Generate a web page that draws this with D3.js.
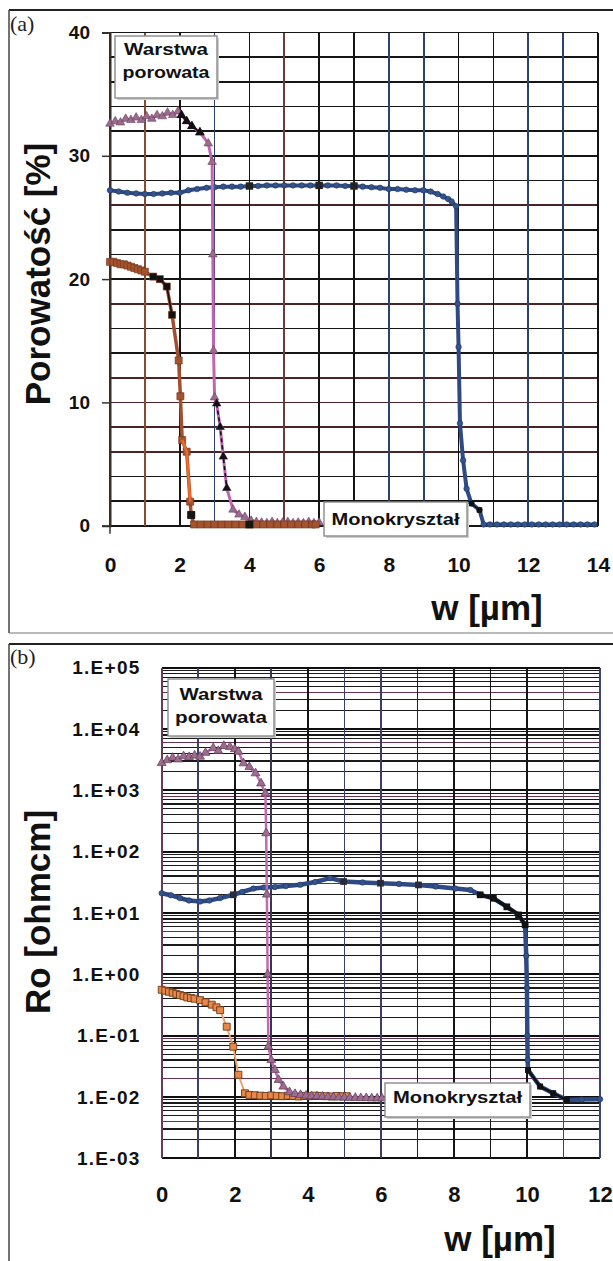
<!DOCTYPE html>
<html><head><meta charset="utf-8">
<script src="https://cdn.jsdelivr.net/npm/d3@7"></script>
<style>body{margin:0;background:#fff}svg{display:block}</style>
</head><body>
<svg id="fig" width="613" height="1261"></svg>
<script>
// ---------- (a) porosity profile ----------
const poroTickX = [0, 2, 4, 6, 8, 10, 12, 14];
const poroTickY = [0, 10, 20, 30, 40];

// triangles: porous layer sample
const poroTriX = [0,0.15,0.3,0.45,0.6,0.75,0.9,1.05,1.2,1.35,1.5,1.65,1.8,1.95,2.05,2.2,2.35,2.58,2.82,2.93,2.95,2.97,3.0,3.06,3.16,3.25,3.35,3.53,3.7,3.87,4.05,4.2,4.35,4.5,4.65,4.8,4.95,5.1,5.25,5.4,5.55,5.7,5.85,6.0];
const poroTriY = [32.6,32.8,32.7,33.0,32.9,33.1,32.9,33.2,33.0,33.3,33.2,33.5,33.3,33.6,33.3,32.8,32.4,31.9,31.0,29.5,22.0,14.2,10.4,9.9,8.0,5.6,3.05,1.3,0.9,0.7,0.4,0.3,0.25,0.2,0.3,0.2,0.25,0.3,0.2,0.25,0.2,0.3,0.2,0.25];
const poroTriDarkAX = [2.05, 2.2, 2.35, 2.58];
const poroTriDarkAY = [33.3, 32.8, 32.4, 31.9];
const poroTriDarkBX = [3.06, 3.16, 3.25, 3.35];
const poroTriDarkBY = [9.9, 8.0, 5.6, 3.05];

// squares
const poroSqX = [0,0.1,0.2,0.3,0.4,0.5,0.6,0.7,0.8,0.9,1.0,1.24,1.43,1.63,1.78,1.97,2.02,2.07,2.2,2.3,2.33,2.41,2.6,2.8,3.0,3.2,3.4,3.6,3.8,4.0,4.2,4.4,4.6,4.8,5.0,5.2,5.4,5.6,5.8,5.9];
const poroSqY = [21.4,21.4,21.3,21.2,21.2,21.1,21.0,20.9,20.8,20.7,20.6,20.2,20.0,19.4,17.1,13.4,10.5,6.95,6.0,1.95,0.87,0.1,0.1,0.1,0.1,0.1,0.1,0.1,0.1,0.1,0.1,0.1,0.1,0.1,0.1,0.1,0.1,0.1,0.1,0.1];
const poroSqDarkX = [1.24, 1.43, 1.63, 1.78];
const poroSqDarkY = [20.2, 20.0, 19.4, 17.1];
const poroSqOrangeX = [2.07, 2.2, 2.3];
const poroSqOrangeY = [6.95, 6.0, 1.95];
const poroSqMarkX = [2.33, 4.0];
const poroSqMarkY = [0.87, 0.1];

// circles
const poroCircX = [0,0.25,0.5,0.75,1.0,1.25,1.5,1.75,2.0,2.25,2.5,2.77,3.0,3.25,3.5,3.75,4.0,4.25,4.5,4.75,5.0,5.25,5.5,5.75,6.0,6.25,6.5,6.75,7.0,7.25,7.5,7.75,8.0,8.25,8.5,8.75,8.99,9.2,9.4,9.56,9.7,9.8,9.93,9.97,10.0,10.04,10.13,10.23,10.37,10.6,10.72,10.9,11.1,11.3,11.5,11.7,11.9,12.1,12.3,12.5,12.7,12.9,13.1,13.3,13.5,13.7,13.9];
const poroCircY = [27.2,27.1,27.0,26.95,26.9,26.9,26.95,27.0,27.0,27.2,27.3,27.4,27.45,27.5,27.5,27.5,27.55,27.55,27.6,27.6,27.6,27.6,27.6,27.6,27.6,27.6,27.6,27.55,27.55,27.5,27.45,27.4,27.3,27.3,27.25,27.2,27.2,27.1,26.9,26.7,26.5,26.3,25.9,18.0,14.5,8.3,5.3,3.0,1.8,1.27,0.1,0.1,0.1,0.1,0.1,0.1,0.1,0.1,0.1,0.1,0.1,0.1,0.1,0.1,0.1,0.1,0.1];
const poroCircDarkX = [10.37, 10.6];
const poroCircDarkY = [1.8, 1.27];
const poroCircMarkX = [4.0, 6.0, 7.0];
const poroCircMarkY = [27.55, 27.6, 27.55];

// ---------- (b) resistivity profile ----------
const roTickX = [0, 2, 4, 6, 8, 10, 12];
const roTickY = [1e5, 1e4, 1e3, 1e2, 1e1, 1e0, 1e-1, 1e-2, 1e-3];
const roTickLabels = ["1.E+05", "1.E+04", "1.E+03", "1.E+02", "1.E+01", "1.E+00", "1.E-01", "1.E-02", "1.E-03"];

const roTriX = [0,0.15,0.3,0.45,0.6,0.75,0.9,1.05,1.2,1.41,1.55,1.7,1.87,2.0,2.1,2.24,2.4,2.57,2.72,2.84,2.86,2.88,2.9,2.92,3.0,3.1,3.2,3.33,3.5,3.65,3.8,3.95,4.1,4.25,4.4,4.55,4.7,4.85,5.0,5.15,5.3,5.45,5.6,5.75,5.9,6.03];
const roTriY = [2800,3100,3400,3200,3600,3500,3700,3550,4100,4900,4400,5300,5100,4700,4270,2760,2400,1900,1300,890,200,20,1.0,0.066,0.04,0.0275,0.019,0.0148,0.012,0.0112,0.0108,0.0105,0.0103,0.0102,0.0101,0.0100,0.0099,0.0098,0.0098,0.0097,0.0097,0.0096,0.0096,0.0095,0.0095,0.0095];

const roSqX = [0,0.1,0.2,0.3,0.4,0.5,0.6,0.7,0.8,0.9,1.05,1.2,1.37,1.5,1.6,1.78,1.96,2.1,2.28,2.4,2.55,2.7,2.85,3.0,3.15,3.3,3.45,3.6,3.75,3.9,4.05,4.2,4.35,4.5,4.65,4.8,4.95,5.07];
const roSqY = [0.56,0.54,0.52,0.50,0.48,0.46,0.44,0.42,0.41,0.40,0.38,0.35,0.32,0.29,0.26,0.14,0.066,0.023,0.0115,0.0108,0.0107,0.0105,0.0104,0.0106,0.0104,0.0103,0.0105,0.0104,0.0102,0.0104,0.0103,0.0105,0.0104,0.0103,0.0102,0.0104,0.0103,0.0103];

const roCircX = [0,0.25,0.5,0.75,1.05,1.3,1.6,1.96,2.2,2.51,2.8,3.1,3.4,3.79,4.2,4.61,4.98,5.5,5.99,6.5,7.03,7.5,8.04,8.45,8.72,9.08,9.45,9.77,9.95,9.98,10.0,10.01,10.02,10.03,10.36,10.72,11.09,11.5,12.0];
const roCircY = [21,19.5,17.5,16,15.4,16,17.5,19.8,22,25,26,26.5,27.5,28.8,32,37,32.6,31.5,30.6,29.8,28.7,27,25,23.8,19.8,17.4,12.6,9.3,6.4,2.0,0.6,0.1,0.04,0.0275,0.0148,0.0115,0.0089,0.0091,0.0092];
const roCircDarkAX = [8.72, 9.08, 9.45, 9.77, 9.95];
const roCircDarkAY = [19.8, 17.4, 12.6, 9.3, 6.4];
const roCircDarkBX = [10.03, 10.36, 10.72, 11.09];
const roCircDarkBY = [0.0275, 0.0148, 0.0115, 0.0089];
const roCircMarkX = [1.96, 4.98, 5.99, 7.03];
const roCircMarkY = [19.8, 32.6, 30.6, 28.7];

const layerLabel = ["Warstwa", "porowata"];
const bulkLabel = "Monokryształ";

// ---------- drawing ----------
const svg = d3.select("#fig");
const SANS = "'Liberation Sans', Arial, sans-serif";

function series(g, x, y, xs, ys, o) {
  const pts = xs.map((v, i) => [x(v), y(ys[i])]);
  if (o.line) {
    g.append("path")
      .attr("d", d3.line()(pts))
      .attr("fill", "none")
      .attr("stroke", o.line)
      .attr("stroke-width", o.lw || 2)
      .attr("stroke-dasharray", o.dash || null)
      .attr("stroke-linejoin", "round");
  }
  if (o.symbol) {
    g.selectAll(null).data(pts).join("path")
      .attr("transform", d => `translate(${d[0]},${d[1]})`)
      .attr("d", d3.symbol(o.symbol, o.size)())
      .attr("fill", o.fill)
      .attr("stroke", o.stroke || "none")
      .attr("stroke-width", o.sw || 0.8);
  }
}

function labelBox(g, x0, y0, w, h, lines, baselines, widths, size) {
  g.append("rect").attr("x", x0 + 2).attr("y", y0 + 2).attr("width", w).attr("height", h)
    .attr("fill", "#cfcfcf");
  g.append("rect").attr("x", x0).attr("y", y0).attr("width", w).attr("height", h)
    .attr("fill", "#fff").attr("stroke", "#8a8a8a").attr("stroke-width", 1.4);
  lines.forEach((t, i) => {
    g.append("text").attr("x", x0 + w / 2).attr("y", baselines[i])
      .attr("text-anchor", "middle")
      .attr("font-family", SANS).attr("font-weight", "bold").attr("font-size", size)
      .attr("textLength", widths[i]).attr("lengthAdjust", "spacingAndGlyphs")
      .attr("fill", "#111").text(t);
  });
}

// panel frames
svg.append("line").attr("x1", 9).attr("x2", 613).attr("y1", 10).attr("y2", 10).attr("stroke", "#222").attr("stroke-width", 2);
svg.append("line").attr("x1", 9).attr("x2", 9).attr("y1", 10).attr("y2", 633).attr("stroke", "#444").attr("stroke-width", 1.5);
svg.append("line").attr("x1", 9).attr("x2", 613).attr("y1", 633).attr("y2", 633).attr("stroke", "#777").attr("stroke-width", 1);
svg.append("line").attr("x1", 9).attr("x2", 613).attr("y1", 644).attr("y2", 644).attr("stroke", "#222").attr("stroke-width", 2);
svg.append("line").attr("x1", 9).attr("x2", 9).attr("y1", 644).attr("y2", 1261).attr("stroke", "#444").attr("stroke-width", 1.5);

// ===== panel (a) =====
{
  const x = d3.scaleLinear().domain([0, 14]).range([110, 598]);
  const y = d3.scaleLinear().domain([0, 40]).range([525.7, 32.5]);
  const g = svg.append("g");

  const vCol = ["#3b2b2b","#8a4a30","#151515","#2b3f6e","#151515","#6e3b3b","#151515","#151515","#2b4170","#2b4170","#0e0e0e","#151515","#2b4170","#2b4170","#151515"];
  const hBrown = new Set([6, 8, 10, 12, 18, 26]);
  const grid = g.append("g").attr("shape-rendering", "crispEdges");
  grid.selectAll(null).data(d3.range(0, 41, 2)).join("line")
    .attr("x1", x(0)).attr("x2", x(14)).attr("y1", d => y(d)).attr("y2", d => y(d))
    .attr("stroke", d => hBrown.has(d) ? "#4a2424" : "#151515").attr("stroke-width", 1.6);
  grid.selectAll(null).data(d3.range(0, 15)).join("line")
    .attr("x1", d => x(d)).attr("x2", d => x(d)).attr("y1", y(40)).attr("y2", y(0))
    .attr("stroke", (d, i) => vCol[i]).attr("stroke-width", 1.6);

  // axes
  const ay = g.append("g").attr("transform", `translate(${x(0)},0)`)
    .call(d3.axisLeft(y).tickValues(poroTickY).tickSize(8).tickPadding(12).tickFormat(d3.format("d")));
  ay.select(".domain").attr("stroke", "#3b2b2b").attr("stroke-width", 2);
  ay.selectAll(".tick line").attr("stroke", "#333").attr("stroke-width", 1.5);
  ay.selectAll("text").attr("font-family", SANS).attr("font-size", 19).attr("font-weight", "bold").attr("fill", "#111");
  const ax = g.append("g").attr("transform", `translate(0,${y(0)})`)
    .call(d3.axisBottom(x).tickValues(poroTickX).tickSize(0).tickPadding(31).tickFormat(d3.format("d")));
  ax.select(".domain").remove();
  ax.selectAll("text").attr("font-family", SANS).attr("font-size", 21).attr("font-weight", "bold").attr("fill", "#111");
  g.append("line").attr("x1", x(0)).attr("x2", x(0)).attr("y1", y(0)).attr("y2", y(0) + 8).attr("stroke", "#333").attr("stroke-width", 1.5);

  // data
  series(g, x, y, poroCircX, poroCircY, {line: "#2f4a82", lw: 4, symbol: d3.symbolCircle, size: 24, fill: "#34548c", stroke: "#1f3363", sw: 0.6});
  series(g, x, y, poroTriX, poroTriY, {line: "#c066b0", lw: 3, symbol: d3.symbolTriangle, size: 32, fill: "#9c6c8e", stroke: "#6a3f5e", sw: 0.6});
  series(g, x, y, poroSqX, poroSqY, {line: "#a0502e", lw: 3.5, symbol: d3.symbolSquare, size: 50, fill: "#a4532f", stroke: "#6e3218", sw: 0.6});
  series(g, x, y, poroSqOrangeX, poroSqOrangeY, {line: "#f26a2a", lw: 2.5});
  series(g, x, y, poroSqDarkX, poroSqDarkY, {line: "#111", lw: 1.6, symbol: d3.symbolSquare, size: 42, fill: "#111"});
  series(g, x, y, poroSqMarkX, poroSqMarkY, {symbol: d3.symbolSquare, size: 60, fill: "#161616"});
  series(g, x, y, poroTriDarkAX, poroTriDarkAY, {line: "#111", lw: 1.6, symbol: d3.symbolTriangle, size: 40, fill: "#111"});
  series(g, x, y, poroTriDarkBX, poroTriDarkBY, {line: "#111", lw: 1.6, dash: "4,3", symbol: d3.symbolTriangle, size: 30, fill: "#111"});
  series(g, x, y, poroCircDarkX, poroCircDarkY, {line: "#111", lw: 1.6, symbol: d3.symbolSquare, size: 30, fill: "#111"});
  series(g, x, y, poroCircMarkX, poroCircMarkY, {symbol: d3.symbolSquare, size: 55, fill: "#222"});

  // labels
  labelBox(g, 115, 36, 102, 62, layerLabel, [55, 78], [84, 87], 16);
  labelBox(g, 324, 502, 143, 34, [bulkLabel], [525], [128], 16);

  g.append("text").attr("transform", "translate(50,274) rotate(-90)").attr("text-anchor", "middle")
    .attr("font-family", SANS).attr("font-weight", "bold").attr("font-size", 35).attr("fill", "#111")
    .text("Porowatość [%]");
  g.append("text").attr("x", 487).attr("y", 620).attr("text-anchor", "middle")
    .attr("font-family", SANS).attr("font-weight", "bold").attr("font-size", 35).attr("fill", "#111")
    .text("w [µm]");
  g.append("text").attr("x", 10).attr("y", 31)
    .attr("font-family", "'Liberation Serif', 'Times New Roman', serif").attr("font-size", 22).attr("fill", "#222")
    .text("(a)");
}

// ===== panel (b) =====
{
  const x = d3.scaleLinear().domain([0, 12]).range([161.7, 600]);
  const y = d3.scaleLog().domain([1e-3, 1e5]).range([1158.3, 667.7]);
  const g = svg.append("g");

  const vCol = ["#6a3a5a","#3a3f6a","#151515","#3a3550","#151515","#3a3f6a","#3a3f6a","#222","#151515","#151515","#151515","#3a4570","#3a4570"];
  const isDecade = d => Math.abs(Math.log10(d) - Math.round(Math.log10(d))) < 1e-9;
  const grid = g.append("g").attr("shape-rendering", "crispEdges");
  grid.selectAll(null).data(y.ticks()).join("line")
    .attr("x1", x(0)).attr("x2", x(12)).attr("y1", d => y(d)).attr("y2", d => y(d))
    .attr("stroke", (d, i) => isDecade(d) ? "#0e0e0e" : (i % 7 === 3 ? "#6a3050" : "#1a1a1a"))
    .attr("stroke-width", d => isDecade(d) ? 2 : 1.2);
  grid.selectAll(null).data(d3.range(0, 13)).join("line")
    .attr("x1", d => x(d)).attr("x2", d => x(d)).attr("y1", y(1e5)).attr("y2", y(1e-3))
    .attr("stroke", (d, i) => vCol[i]).attr("stroke-width", 1.6);

  // axes
  const ay = g.append("g").attr("transform", `translate(${x(0)},0)`)
    .call(d3.axisLeft(y).tickValues(roTickY).tickSize(0).tickPadding(21).tickFormat((d, i) => roTickLabels[i]));
  ay.select(".domain").remove();
  ay.selectAll("text").attr("font-family", SANS).attr("font-size", 19).attr("font-weight", "bold")
    .attr("letter-spacing", "1.3px").attr("fill", "#111");
  const ax = g.append("g").attr("transform", `translate(0,${y(1e-3)})`)
    .call(d3.axisBottom(x).tickValues(roTickX).tickSize(0).tickPadding(28).tickFormat(d3.format("d")));
  ax.select(".domain").remove();
  ax.selectAll("text").attr("font-family", SANS).attr("font-size", 22).attr("font-weight", "bold").attr("fill", "#111");

  // data
  series(g, x, y, roCircX, roCircY, {line: "#2f4a82", lw: 4.5, symbol: d3.symbolCircle, size: 24, fill: "#34548c", stroke: "#1f3363", sw: 0.6});
  series(g, x, y, roCircDarkAX, roCircDarkAY, {line: "#111", lw: 3.5, symbol: d3.symbolSquare, size: 45, fill: "#111"});
  series(g, x, y, roCircDarkBX, roCircDarkBY, {line: "#111", lw: 2.5, symbol: d3.symbolSquare, size: 35, fill: "#111"});
  series(g, x, y, roCircMarkX, roCircMarkY, {symbol: d3.symbolSquare, size: 45, fill: "#2a2a3a"});
  series(g, x, y, roSqX, roSqY, {line: "#f2a26e", lw: 2, symbol: d3.symbolSquare, size: 48, fill: "#e8874a", stroke: "#6b3a1a", sw: 0.9});
  series(g, x, y, roTriX, roTriY, {line: "#c468b4", lw: 2.5, symbol: d3.symbolTriangle, size: 34, fill: "#9d6c8f", stroke: "#5a3a55", sw: 0.7});

  // labels
  labelBox(g, 168, 679, 106, 57, layerLabel, [700, 723], [83, 92], 16);
  labelBox(g, 385, 1083, 145, 34, [bulkLabel], [1103], [129], 16);

  g.append("text").attr("transform", "translate(50,912) rotate(-90)").attr("text-anchor", "middle")
    .attr("font-family", SANS).attr("font-weight", "bold").attr("font-size", 35).attr("fill", "#111")
    .text("Ro [ohmcm]");
  g.append("text").attr("x", 500).attr("y", 1251).attr("text-anchor", "middle")
    .attr("font-family", SANS).attr("font-weight", "bold").attr("font-size", 35).attr("fill", "#111")
    .text("w [µm]");
  g.append("text").attr("x", 10).attr("y", 664)
    .attr("font-family", "'Liberation Serif', 'Times New Roman', serif").attr("font-size", 22).attr("fill", "#222")
    .text("(b)");
}
</script>
</body></html>
